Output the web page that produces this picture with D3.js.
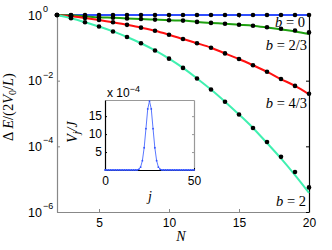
<!DOCTYPE html>
<html>
<head>
<meta charset="utf-8">
<script src="https://cdn.jsdelivr.net/npm/d3@7"></script>
<style>
  body { margin: 0; background: #fff; }
  .tick text { font-family: "Liberation Sans", Arial, sans-serif; font-size: 12px; fill: #000; }
  .tex { font-family: "Liberation Serif", "Times New Roman", serif; fill: #000; }
</style>
</head>
<body>
<div id="chart"></div>
<script>
// number of sites N (x axis of the main plot)
var nValues = [2, 3, 4, 5, 6, 7, 8, 9, 10, 11, 12, 13, 14, 15, 16, 17, 18, 19, 20];

// numerical points (black dots), Delta E / (2 V0 / L)
var dotsB0  = [1, 1, 1, 1, 1, 1, 1, 1, 1, 1, 1, 1, 1, 1, 1, 1, 1, 1, 1];
var dotsB23 = [1, 0.977, 0.912, 0.851, 0.822, 0.785, 0.759, 0.724, 0.692, 0.676, 0.617, 0.575, 0.543, 0.507, 0.473, 0.422, 0.380, 0.339, 0.295];
var dotsB43 = [1, 0.912, 0.813, 0.708, 0.603, 0.501, 0.412, 0.331, 0.251, 0.186, 0.138, 0.101, 0.0676, 0.0457, 0.0295, 0.0186, 0.0112, 0.00692, 0.00398];
var dotsB2  = [1, 0.794, 0.603, 0.447, 0.316, 0.214, 0.138, 0.0832, 0.0468, 0.0245, 0.0117, 0.00537, 0.00229, 9.33e-4, 3.63e-4, 1.35e-4, 4.79e-5, 1.66e-5, 5.62e-6];

// analytic curves (coloured lines)
var lineB0  = [1, 1, 1, 1, 1, 1, 1, 1, 1, 1, 1, 1, 1, 1, 1, 1, 1, 1, 1];
var lineB23 = [1, 0.977, 0.912, 0.851, 0.822, 0.785, 0.759, 0.724, 0.692, 0.676, 0.617, 0.575, 0.543, 0.507, 0.473, 0.417, 0.363, 0.316, 0.263];
var lineB43 = [1, 0.912, 0.813, 0.708, 0.603, 0.501, 0.412, 0.331, 0.251, 0.186, 0.138, 0.101, 0.0676, 0.0457, 0.0295, 0.0186, 0.0112, 0.00692, 0.00385];
var lineB2  = [1, 0.794, 0.603, 0.447, 0.316, 0.214, 0.138, 0.0832, 0.0468, 0.0245, 0.0117, 0.00537, 0.00229, 9.33e-4, 3.63e-4, 1.26e-4, 4.27e-5, 1.32e-5, 3.8e-6];

var curveLabels = ["0", "2/3", "4/3", "2"];
var curveColors = ["#2f4dff", "#1fa010", "#ff1010", "#40f0b0"];

var xTicks = [5, 10, 15, 20];
var yTicks = [1, 1e-2, 1e-4, 1e-6];
var yTickExp = ["0", "\u22122", "\u22124", "\u22126"];

// inset: V_j / J (units of 1e-4) for j = 0..50
var insetJ = d3.range(0, 51);
var insetV = [0, 0, 0, 0, 0, 0, 0, 0, 0, 0,
              0, 0, 0, 0, 0, 0, 0, 0, 0, 0.2,
              0.8, 2.6, 6.2, 11.5, 17, 19.2, 17, 11.5, 6.2, 2.6,
              0.8, 0.2, 0, 0, 0, 0, 0, 0, 0, 0,
              0, 0, 0, 0, 0, 0, 0, 0, 0, 0, 0];
var insetXTicks = [0, 50];
var insetYTicks = [5, 10, 15];

var width = 332, height = 250;
var svg = d3.select("#chart").append("svg")
    .attr("width", width)
    .attr("height", height);

var x = d3.scaleLinear().domain([2, 20]).range([57, 309]);
var y = d3.scaleLog().domain([1e-6, 1]).range([212, 15]);

var lines = [lineB0, lineB23, lineB43, lineB2];
var dots = [dotsB0, dotsB23, dotsB43, dotsB2];

// axes
function styleAxis(g, color) {
    g.select(".domain").attr("stroke", color).attr("stroke-width", 1.2);
    g.selectAll(".tick line").attr("stroke", color);
}
svg.append("g").attr("transform", "translate(0,212)")
    .call(d3.axisBottom(x).tickValues(xTicks).tickSizeInner(-3).tickSizeOuter(0).tickPadding(6))
    .call(styleAxis, "#888");
svg.append("g").attr("transform", "translate(0,15)")
    .call(d3.axisTop(x).tickValues(xTicks).tickSizeInner(-3).tickSizeOuter(0).tickFormat(""))
    .call(styleAxis, "#888");
svg.append("g").attr("transform", "translate(57,0)")
    .call(d3.axisLeft(y).tickValues(yTicks).tickSizeInner(-3).tickSizeOuter(0).tickFormat(""))
    .call(styleAxis, "#888");
svg.append("g").attr("transform", "translate(309,0)")
    .call(d3.axisRight(y).tickValues(yTicks).tickSizeInner(-3).tickSizeOuter(0).tickFormat(""))
    .call(styleAxis, "#000");

// y tick labels as 10^k
var yLab = svg.append("g").selectAll("g").data(yTicks).enter().append("g")
    .attr("transform", function(d) { return "translate(0," + y(d) + ")"; });
yLab.append("text")
    .attr("x", 42).attr("y", 4.5)
    .attr("text-anchor", "end")
    .style("font-family", "Liberation Sans, Arial, sans-serif")
    .style("font-size", "12.5px")
    .text("10");
yLab.append("text")
    .attr("x", 43).attr("y", -3)
    .style("font-family", "Liberation Sans, Arial, sans-serif")
    .style("font-size", "9px")
    .text(function(d, i) { return yTickExp[i]; });

// curves
var line = d3.line()
    .x(function(d, i) { return x(nValues[i]); })
    .y(function(d) { return y(d); })
    .curve(d3.curveMonotoneX);

svg.append("g").selectAll("path").data(lines).enter().append("path")
    .attr("d", line)
    .attr("fill", "none")
    .attr("stroke", function(d, i) { return curveColors[i]; })
    .attr("stroke-width", 2);

svg.append("g").selectAll("g").data(dots).enter().append("g")
    .selectAll("circle").data(function(d) { return d; }).enter().append("circle")
    .attr("cx", function(d, i) { return x(nValues[i]); })
    .attr("cy", function(d) { return y(d); })
    .attr("r", 2.3)
    .attr("fill", "#000");

// curve labels "b = ..."
var labelPos = [[305, 27], [307, 50], [307, 108], [306, 206]];
curveLabels.forEach(function(lab, i) {
    var t = svg.append("text").attr("class", "tex")
        .attr("x", labelPos[i][0]).attr("y", labelPos[i][1])
        .attr("text-anchor", "end")
        .style("font-size", "14.5px");
    t.append("tspan").style("font-style", "italic").text("b");
    t.append("tspan").text(" = " + lab);
});

// axis titles
svg.append("text").attr("class", "tex")
    .attr("x", 181).attr("y", 241)
    .attr("text-anchor", "middle")
    .style("font-size", "14px").style("font-style", "italic")
    .text("N");

var yt = svg.append("text").attr("class", "tex")
    .attr("transform", "translate(13,107) rotate(-90)")
    .attr("text-anchor", "middle")
    .style("font-size", "14.5px");
yt.append("tspan").text("\u0394 ");
yt.append("tspan").style("font-style", "italic").text("E");
yt.append("tspan").text("/(2");
yt.append("tspan").style("font-style", "italic").text("V");
yt.append("tspan").attr("dy", 3).style("font-size", "10px").text("0");
yt.append("tspan").attr("dy", -3).text("/");
yt.append("tspan").style("font-style", "italic").text("L");
yt.append("tspan").text(")");

// inset
var ix = d3.scaleLinear().domain([0, 50]).range([105, 194]);
var iy = d3.scaleLinear().domain([0, 19.5]).range([170, 100]);

var inset = svg.append("g");
inset.append("rect")
    .attr("x", 105).attr("y", 100).attr("width", 89).attr("height", 70)
    .attr("fill", "#fff");
inset.append("g").attr("transform", "translate(0,100)")
    .call(d3.axisTop(ix).tickValues([]).tickSizeOuter(0))
    .call(styleAxis, "#999");
inset.append("g").attr("transform", "translate(194,0)")
    .call(d3.axisRight(iy).tickValues(insetYTicks).tickSizeInner(-2).tickSizeOuter(0).tickFormat(""))
    .call(styleAxis, "#999");
inset.append("g").attr("transform", "translate(0,170)")
    .call(d3.axisBottom(ix).tickValues(insetXTicks).tickSizeInner(-2).tickSizeOuter(0).tickPadding(6))
    .call(styleAxis, "#000");
inset.append("g").attr("transform", "translate(105,0)")
    .call(d3.axisLeft(iy).tickValues(insetYTicks).tickSizeInner(-2).tickSizeOuter(0).tickPadding(3))
    .call(styleAxis, "#000");

var iline = d3.line()
    .x(function(d, i) { return ix(insetJ[i]); })
    .y(function(d) { return iy(d); });
inset.append("path")
    .datum(insetV)
    .attr("d", iline)
    .attr("fill", "none")
    .attr("stroke", "#5a78ff")
    .attr("stroke-width", 1);
inset.append("g").selectAll("circle").data(insetV).enter().append("circle")
    .attr("cx", function(d, i) { return ix(insetJ[i]); })
    .attr("cy", function(d) { return iy(d); })
    .attr("r", 0.9)
    .attr("fill", "#3050ff");

var mult = inset.append("text")
    .attr("x", 107).attr("y", 97)
    .style("font-family", "Liberation Sans, Arial, sans-serif")
    .style("font-size", "12px");
mult.append("tspan").text("x 10");
mult.append("tspan").attr("dy", -5).style("font-size", "9px").text("\u22124");

inset.append("text").attr("class", "tex")
    .attr("x", 150).attr("y", 201)
    .attr("text-anchor", "middle")
    .style("font-size", "14px").style("font-style", "italic")
    .text("j");

var vt = inset.append("text").attr("class", "tex")
    .attr("transform", "translate(77,132) rotate(-90)")
    .attr("text-anchor", "middle")
    .style("font-size", "14px").style("font-style", "italic");
vt.append("tspan").text("V");
vt.append("tspan").attr("dy", 3).style("font-size", "10px").text("j");
vt.append("tspan").attr("dy", -3).text("/J");
</script>
</body>
</html>
